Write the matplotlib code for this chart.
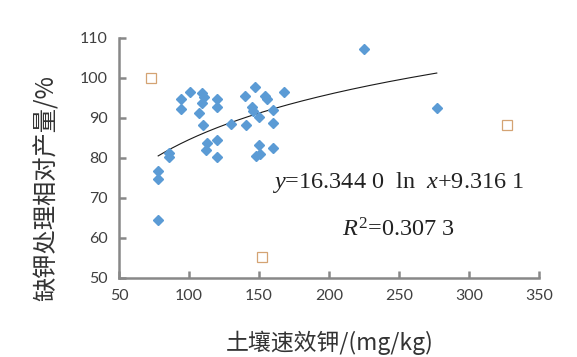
import numpy as np
import matplotlib
matplotlib.use("Agg")
import matplotlib.pyplot as plt

plt.rcParams['mathtext.fontset'] = 'custom'
plt.rcParams['mathtext.rm'] = 'Liberation Serif'
plt.rcParams['mathtext.it'] = 'Liberation Serif:italic'

# blue diamonds: soil available K (mg/kg) vs relative yield (%)
soil_k = [78, 78, 78, 86, 86, 94, 94, 101, 109, 111, 109, 107, 110, 120, 120,
          113, 112, 120, 120, 130, 140, 147, 141, 145, 146, 150, 154, 156, 160,
          160, 168, 150, 148, 151, 160, 225, 277]
rel_yield = [76.8, 74.7, 64.5, 81.3, 80.2, 92.2, 94.7, 96.4, 96.2, 95.2, 93.8,
             91.3, 88.3, 94.7, 92.8, 83.8, 82.0, 84.5, 80.3, 88.4, 95.5, 97.7,
             88.3, 92.7, 91.8, 90.3, 95.5, 94.7, 92.0, 88.7, 96.4, 83.3, 80.5,
             80.9, 82.4, 107.2, 92.6]
# open squares (outliers)
out_k = [73, 152, 327]
out_yield = [99.9, 55.3, 88.3]

coef_a = 16.3440
coef_b = 9.3161

fig = plt.figure(figsize=(5.77, 3.57), dpi=100)
ax = fig.add_axes([0.2062, 0.2213, 0.7279, 0.6723])

ax.plot(soil_k, rel_yield, linestyle='none', marker='D', markersize=5.6,
        color='#5B9BD5', markeredgecolor='#5B9BD5', zorder=3)
ax.plot(out_k, out_yield, linestyle='none', marker='s', markersize=7.5,
        markerfacecolor='none', markeredgecolor='#D4A373', markeredgewidth=0.9,
        zorder=3)

xs = np.linspace(min(soil_k), max(soil_k), 200)
ax.plot(xs, coef_a * np.log(xs) + coef_b, color='#1a1a1a', lw=0.8, zorder=2)

ax.set_xlim(50, 350)
ax.set_ylim(50, 110)
ax.set_xticks(np.arange(50, 351, 50))
ax.set_yticks(np.arange(50, 111, 10))

for s in ['top', 'right']:
    ax.spines[s].set_visible(False)
for s in ['left', 'bottom']:
    ax.spines[s].set_color('#888888')
    ax.spines[s].set_linewidth(1.8)
ax.tick_params(direction='in', length=5, width=1.8, color='#888888',
               labelsize=11.5, labelcolor='#404040', pad=8)
for lab in ax.get_xticklabels() + ax.get_yticklabels():
    lab.set_fontfamily('Lato')

ax.text(0.364, 0.396, r'$y$=16.344 0  ln  $x$+9.316 1', transform=ax.transAxes,
        fontsize=17.5, fontfamily='Liberation Serif', color='#222222',
        ha='left', va='center')
ax.text(0.531, 0.20, r'$R^{\mathrm{2}}$=0.307 3', transform=ax.transAxes,
        fontsize=17.5, fontfamily='Liberation Serif', color='#222222',
        ha='left', va='center')

fig.text(0.081, 0.474, '缺钾处理相对产量/%', rotation=90, ha='center', va='center',
         fontsize=17.5, fontfamily=['Noto Sans CJK SC', 'DejaVu Sans'], color='#333333')
fig.text(0.572, 0.039, '土壤速效钾/(mg/kg)', ha='center', va='center',
         fontsize=16.5, fontfamily=['Noto Sans CJK SC', 'DejaVu Sans'], color='#333333')

fig.savefig('out.png', dpi=100, facecolor='white')
